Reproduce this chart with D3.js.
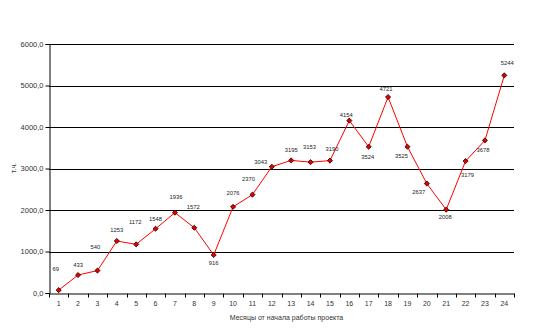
<!DOCTYPE html>
<html><head><meta charset="utf-8">
<script src="https://cdn.jsdelivr.net/npm/d3@7"></script>
<style>body{margin:0;background:#fff}svg{display:block;font-family:"Liberation Sans",Arial,sans-serif}</style>
</head><body><svg id="c" width="533" height="331"></svg>
<script>
const months = ["1","2","3","4","5","6","7","8","9","10","11","12","13","14","15","16","17","18","19","20","21","22","23","24"];
const values = [69,433,540,1253,1172,1548,1936,1572,916,2076,2370,3043,3195,3153,3190,4154,3524,4721,3525,2637,2008,3179,3678,5244];
const yTicks = [0,1000,2000,3000,4000,5000,6000];
const xTitle = "Месяцы от начала работы проекта";
const yTitle = "т.ч.";

// label offsets (layout only), relative to each point
const labelOff = [[-3,-21],[0,-10],[-2,-24],[0,-11],[-1,-22],[0,-10],[1,-16],[-1,-21],[0,8],[0,-14],[-4,-16],[-11,-5],[0,-10],[-1,-15],[2,-12],[-3,-6],[-1,10],[-2,-8],[-6,9],[-8,8],[-1,7],[2,14],[-2,10],[3,-12]];

const svg = d3.select("#c");
const m = {l:49, r:514, t:44, b:293};
const x = d3.scaleBand().domain(months).range([m.l, m.r]);
const y = d3.scaleLinear().domain([0,6000]).range([m.b, m.t]);
const fmt = v => d3.format(".1f")(v).replace(".", ",");

// gridlines
svg.append("g").selectAll("line").data(yTicks.filter(d=>d>0)).join("line")
  .attr("x1", m.l).attr("x2", m.r).attr("y1", d=>Math.round(y(d))+0.5).attr("y2", d=>Math.round(y(d))+0.5)
  .attr("stroke", "#000").attr("stroke-width", 1);

// y axis
const ya = svg.append("g").attr("transform", `translate(${m.l+0.5},0)`)
  .call(d3.axisLeft(y).tickValues(yTicks).tickFormat(fmt).tickSize(4).tickPadding(2));
ya.select(".domain").attr("stroke","#000");
ya.selectAll("text").attr("font-size", 7.5).attr("fill","#333").attr("font-family","Liberation Sans, Arial, sans-serif");

// x axis
const xa = svg.append("g").attr("transform", `translate(0,${m.b+0.5})`)
  .call(d3.axisBottom(x).tickSize(0).tickPadding(8));
xa.select(".domain").attr("stroke","#000");
xa.selectAll("text").attr("font-size", 7).attr("fill","#333").attr("font-family","Liberation Sans, Arial, sans-serif");
xa.selectAll(".bt").data(months.concat(["end"])).join("line").attr("class","bt")
  .attr("x1",(d,i)=>Math.round(m.l + i*x.step())+0.5).attr("x2",(d,i)=>Math.round(m.l + i*x.step())+0.5)
  .attr("y1",0).attr("y2",4).attr("stroke","#000");

// titles
svg.append("text").attr("x", (m.l+m.r)/2+5).attr("y", 320).attr("text-anchor","middle")
  .attr("font-size", 7).attr("fill","#333").text(xTitle);
svg.append("text").attr("transform","translate(16,168) rotate(-90)").attr("text-anchor","middle")
  .attr("font-size", 7).attr("fill","#333").text(yTitle);

// line
const line = d3.line().x((d,i)=>x(months[i])+x.bandwidth()/2).y(d=>y(d));
svg.append("path").datum(values).attr("d", line).attr("fill","none").attr("stroke","#ff0000").attr("stroke-width",1);

// markers (small diamonds)
svg.append("g").selectAll("path").data(values).join("path")
  .attr("transform",(d,i)=>`translate(${x(months[i])+x.bandwidth()/2},${y(d)}) rotate(45)`)
  .attr("d", d3.symbol(d3.symbolSquare, 13)())
  .attr("fill","#e00000").attr("stroke","#300").attr("stroke-width",0.8);

// labels
svg.append("g").selectAll("text").data(values).join("text")
  .attr("x",(d,i)=>x(months[i])+x.bandwidth()/2+labelOff[i][0])
  .attr("y",(d,i)=>y(d)+labelOff[i][1]+2)
  .attr("text-anchor","middle").attr("font-size",5.8).attr("fill","#222")
  .text(d=>d);
</script></body></html>
